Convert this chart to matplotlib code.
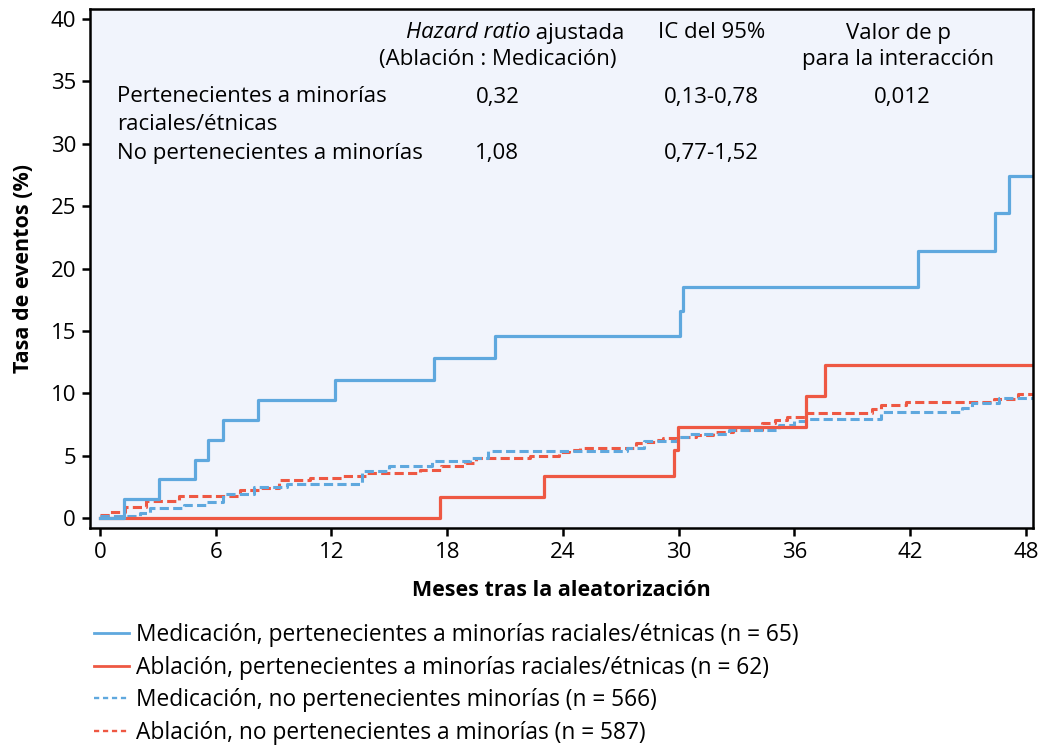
import matplotlib
matplotlib.use("Agg")
import matplotlib.pyplot as plt
from matplotlib.lines import Line2D

plt.rcParams['font.family'] = ['Open Sans', 'DejaVu Sans']

# ---- data (months, cumulative event rate %) ----
med_min_t = [0, 1.25, 3.05, 4.9, 5.6, 6.4, 8.2, 12.2, 17.3, 20.5, 30.05, 30.2, 42.4, 46.4, 47.1, 48.37]
med_min_y = [0, 1.55, 3.15, 4.7, 6.25, 7.9, 9.5, 11.1, 12.85, 14.6, 16.6, 18.55, 21.4, 24.45, 27.45, 27.45]

abl_min_t = [0, 17.6, 23.0, 29.75, 29.95, 36.6, 37.6, 48.37]
abl_min_y = [0, 1.68, 3.4, 5.45, 7.3, 9.8, 12.3, 12.3]

med_no_t = [0, 2.07, 2.6, 4.35, 5.5, 6.4, 8.0, 9.7, 13.6, 15.0, 17.2, 19.2, 20.1, 27.3, 28.2,
            29.9, 30.6, 32.6, 35.2, 36.0, 36.6, 40.5, 44.7, 45.2, 46.6, 48.37]
med_no_y = [0.15, 0.42, 0.83, 1.07, 1.33, 1.95, 2.48, 2.75, 3.79, 4.19, 4.6, 4.85, 5.4, 5.6, 6.2,
            6.5, 6.75, 7.1, 7.5, 7.8, 7.95, 8.5, 8.8, 9.25, 9.6, 9.6]

abl_no_t = [0, 0.5, 1.3, 2.4, 4.1, 7.25, 8.3, 9.3, 10.9, 12.6, 13.8, 16.6, 17.7, 18.9, 19.5, 22.3,
            23.8, 24.3, 24.9, 27.8, 28.3, 28.8, 29.2, 30.0, 30.9, 31.8, 32.8, 34.3, 35.0, 35.6,
            36.6, 40.0, 40.5, 41.8, 46.35, 47.6, 48.37]
abl_no_y = [0.25, 0.5, 0.9, 1.35, 1.75, 2.25, 2.45, 3.1, 3.25, 3.4, 3.6, 3.9, 4.2, 4.4, 4.85, 5.0,
            5.3, 5.5, 5.65, 6.0, 6.15, 6.3, 6.45, 6.55, 6.7, 6.9, 7.1, 7.6, 7.9, 8.15,
            8.45, 8.75, 9.1, 9.3, 9.55, 9.95, 9.95]

labels = ["Medicación, pertenecientes a minorías raciales/étnicas (n = 65)",
          "Ablación, pertenecientes a minorías raciales/étnicas (n = 62)",
          "Medicación, no pertenecientes minorías (n = 566)",
          "Ablación, no pertenecientes a minorías (n = 587)"]

x_ticks = [0, 6, 12, 18, 24, 30, 36, 42, 48]
y_ticks = [0, 5, 10, 15, 20, 25, 30, 35, 40]

BLUE = "#5fa8de"
RED = "#ee5843"

fig = plt.figure(figsize=(10.44, 7.49), dpi=100)
ax = fig.add_axes([90/1044, 1-528/749, 943/1044, 519/749])
ax.set_facecolor("#f1f4fc")

ax.step(abl_no_t, abl_no_y, where='post', color=RED, lw=2.2, dashes=(3.0, 1.4))
ax.step(med_no_t, med_no_y, where='post', color=BLUE, lw=2.2, dashes=(3.0, 1.4))
ax.step(abl_min_t, abl_min_y, where='post', color=RED, lw=2.3)
ax.step(med_min_t, med_min_y, where='post', color=BLUE, lw=2.3)

ax.set_xlim(-0.52, 48.37)
ax.set_ylim(-0.78, 40.8)
ax.set_xticks(x_ticks)
ax.set_yticks(y_ticks)
for s in ax.spines.values():
    s.set_linewidth(1.8)
ax.tick_params(axis='both', direction='out', length=6, width=1.8, labelsize=16, pad=4)
ax.set_xlabel("Meses tras la aleatorización", fontsize=15.5, fontweight='bold', labelpad=12)
ax.set_ylabel("Tasa de eventos (%)", fontsize=15.5, fontweight='bold', labelpad=12)

def fx(px):
    return (px - 90) / 943
def fy(py):
    return (528 - py) / 519

fs = 16
T = ax.transAxes
ax.text(fx(530), fy(33), "Hazard ratio", style='italic', ha='right', va='center', fontsize=fs, transform=T)
ax.text(fx(530), fy(33), " ajustada", ha='left', va='center', fontsize=fs, transform=T)
ax.text(fx(498), fy(60), "(Ablación : Medicación)", ha='center', va='center', fontsize=fs, transform=T)
ax.text(fx(712), fy(33), "IC del 95%", ha='center', va='center', fontsize=fs, transform=T)
ax.text(fx(898), fy(33), "Valor de p", ha='center', va='center', fontsize=fs, transform=T)
ax.text(fx(898), fy(60), "para la interacción", ha='center', va='center', fontsize=fs, transform=T)

ax.text(fx(117), fy(97), "Pertenecientes a minorías", ha='left', va='center', fontsize=fs, transform=T)
ax.text(fx(117), fy(124), "raciales/étnicas", ha='left', va='center', fontsize=fs, transform=T)
ax.text(fx(117), fy(153), "No pertenecientes a minorías", ha='left', va='center', fontsize=fs, transform=T)
ax.text(fx(498), fy(97), "0,32", ha='center', va='center', fontsize=fs, transform=T)
ax.text(fx(497), fy(153), "1,08", ha='center', va='center', fontsize=fs, transform=T)
ax.text(fx(711), fy(97), "0,13-0,78", ha='center', va='center', fontsize=fs, transform=T)
ax.text(fx(711), fy(153), "0,77-1,52", ha='center', va='center', fontsize=fs, transform=T)
ax.text(fx(902), fy(97), "0,012", ha='center', va='center', fontsize=fs, transform=T)

handles = [Line2D([], [], color=BLUE, lw=2.0),
           Line2D([], [], color=RED, lw=2.0),
           Line2D([], [], color=BLUE, lw=1.7, dashes=(2.2, 1.6)),
           Line2D([], [], color=RED, lw=1.7, dashes=(2.2, 1.6))]
fig.legend(handles, labels, loc='upper left', bbox_to_anchor=(85/1044, 1-614/749),
           frameon=False, fontsize=16.4, handlelength=1.55, handletextpad=0.3,
           labelspacing=0.38, borderaxespad=0)

fig.savefig("out.png", dpi=100)
